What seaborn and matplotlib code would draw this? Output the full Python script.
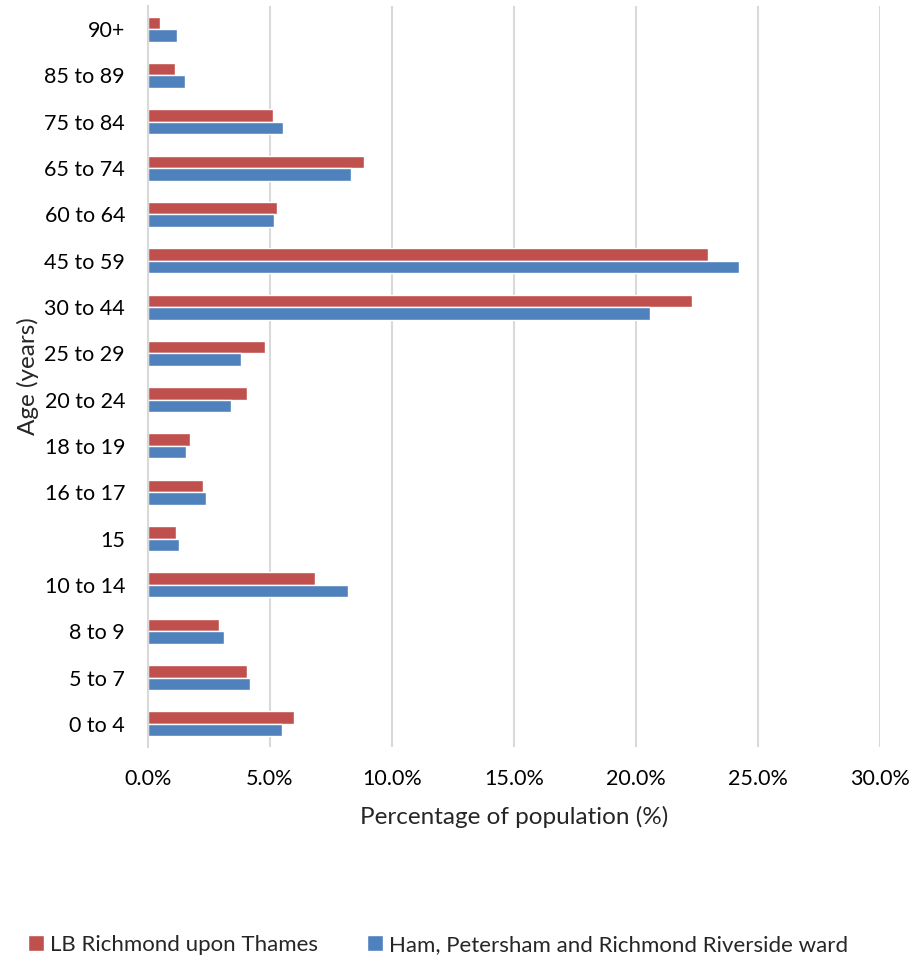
import matplotlib
matplotlib.use("Agg")
import matplotlib.pyplot as plt
import matplotlib.ticker as mticker
import pandas as pd
import seaborn as sns

# Age bands, top to bottom
age_bands = ["90+", "85 to 89", "75 to 84", "65 to 74", "60 to 64", "45 to 59",
             "30 to 44", "25 to 29", "20 to 24", "18 to 19", "16 to 17", "15",
             "10 to 14", "8 to 9", "5 to 7", "0 to 4"]

# Share of population (%) per age band
richmond_borough = [0.49, 1.12, 5.11, 8.87, 5.27, 22.96, 22.31, 4.80, 4.07, 1.71,
                    2.25, 1.15, 6.86, 2.90, 4.07, 6.00]
ham_ward = [1.19, 1.50, 5.55, 8.31, 5.16, 24.22, 20.59, 3.82, 3.42, 1.54,
            2.36, 1.28, 8.18, 3.13, 4.19, 5.50]

series_names = ["LB Richmond upon Thames", "Ham, Petersham and Richmond Riverside ward"]
x_ticks = [0, 5, 10, 15, 20, 25, 30]

df = pd.concat([
    pd.DataFrame({"age": age_bands, "pct": richmond_borough, "area": series_names[0]}),
    pd.DataFrame({"age": age_bands, "pct": ham_ward, "area": series_names[1]}),
])

sns.set_theme(style="white")
plt.rcParams["font.family"] = ["Lato", "DejaVu Sans"]

fig = plt.figure(figsize=(9.18, 9.65), dpi=100)
ax = fig.add_axes([148 / 918, 1 - 747 / 965, (880 - 148) / 918, (747 - 6) / 965])

sns.barplot(data=df, y="age", x="pct", hue="area", order=age_bands,
            hue_order=series_names, palette=["#C0504D", "#4F81BD"],
            orient="h", width=0.54, gap=0, ax=ax, legend=True, saturation=1)

ax.set_xlim(0, 30)
ax.set_xticks(x_ticks)
ax.xaxis.set_major_formatter(mticker.FuncFormatter(lambda v, p: f"{v:.1f}%"))
ax.grid(axis="x", color="#D9D9D9", linewidth=1.5)
ax.set_axisbelow(True)
for side in ["top", "right", "bottom"]:
    ax.spines[side].set_visible(False)
ax.spines["left"].set_color("#D9D9D9")
ax.spines["left"].set_linewidth(1.5)
ax.tick_params(axis="both", length=0, labelsize=15.5, colors="black")
ax.tick_params(axis="x", pad=16)
ax.tick_params(axis="y", pad=16.5)

ax.set_xlabel("Percentage of population (%)", fontsize=17.5, labelpad=12)
ax.set_ylabel("Age (years)", fontsize=17.5, labelpad=4)

handles, labels = ax.get_legend_handles_labels()
ax.get_legend().remove()
fig.legend(handles, labels, loc="lower left", bbox_to_anchor=(8 / 918, -0.01),
           ncol=2, frameon=False, fontsize=16, handlelength=0.7,
           handleheight=0.7, handletextpad=0.3, columnspacing=2.2)

fig.savefig("out.png", dpi=100)
